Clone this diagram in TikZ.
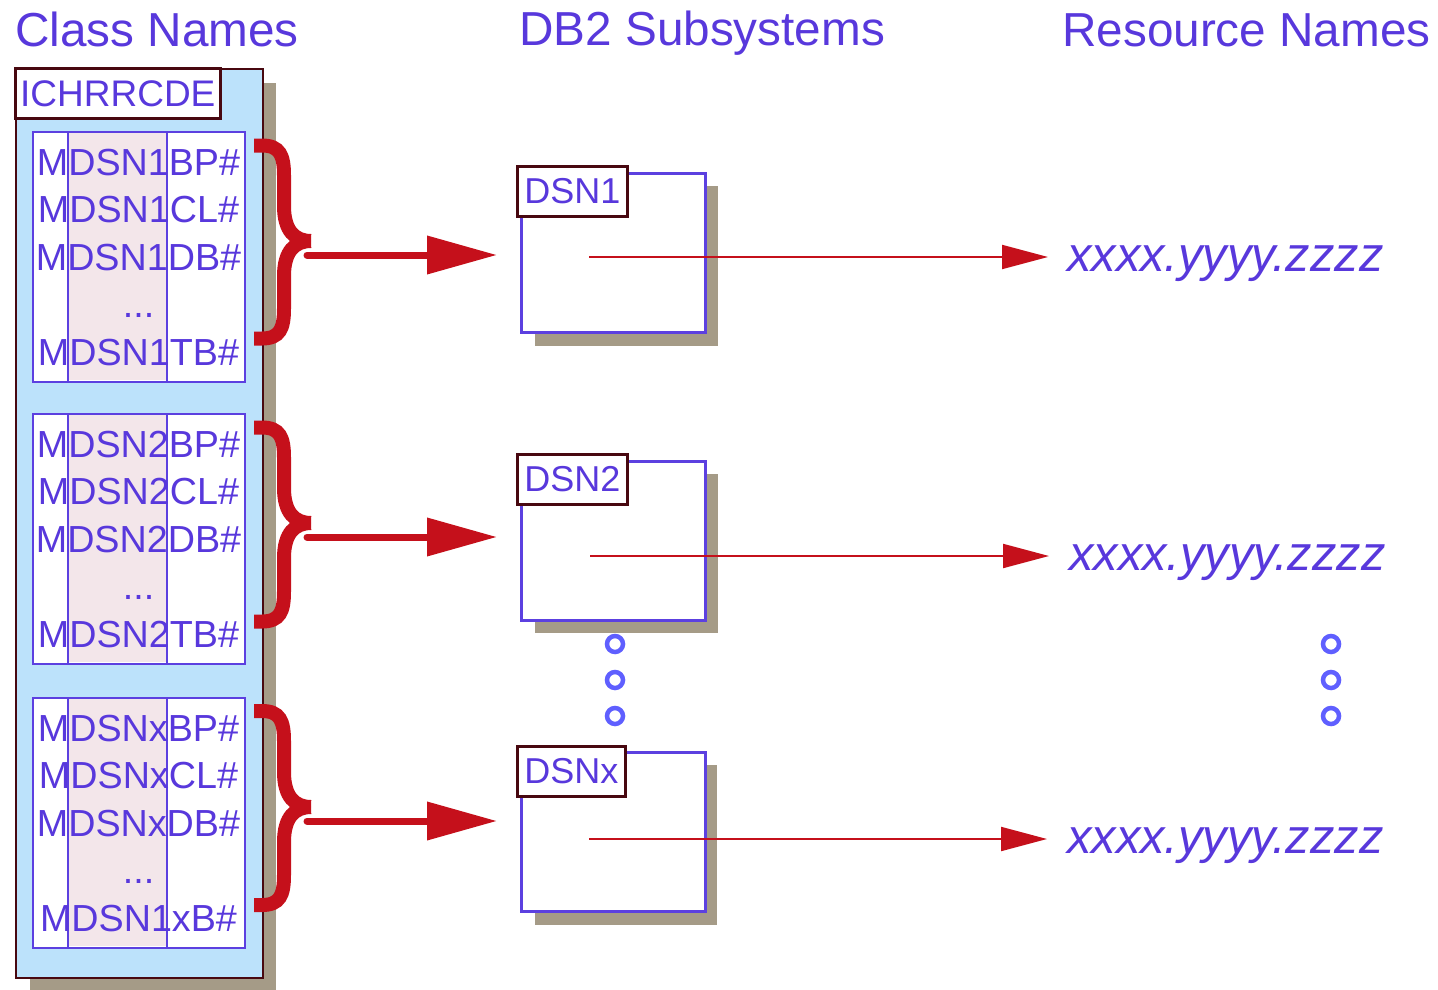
\documentclass[tikz,border=0pt]{standalone}
\usepackage{fontspec}
\setmainfont{Liberation Sans}
\usetikzlibrary{arrows.meta}
\definecolor{txt}{RGB}{88,56,220}
\definecolor{bord}{RGB}{92,64,224}
\definecolor{maroonc}{RGB}{72,8,16}
\definecolor{redc}{RGB}{197,16,27}
\definecolor{lblue}{RGB}{188,226,251}
\definecolor{shad}{RGB}{165,155,135}
\definecolor{pinkc}{RGB}{243,230,234}
\definecolor{dotc}{RGB}{95,95,255}
\tikzset{
  rowtext/.style={text=txt, font=\fontsize{37.7}{40}\selectfont, inner sep=0pt, anchor=base},
  heading/.style={text=txt, font=\fontsize{47.7}{50}\selectfont, inner sep=0pt, anchor=base west},
  restext/.style={text=txt, font=\fontsize{48.8}{50}\selectfont\itshape, inner sep=0pt, anchor=base west},
  tagbox/.style={draw=maroonc, line width=2.6pt, fill=white, text=txt, inner sep=0pt, anchor=north west, minimum height=50pt},
  dsnbox/.style={draw=bord, line width=2.6pt, fill=white, inner sep=0pt, anchor=north west, minimum width=184pt, minimum height=159pt},
  tablebox/.style={draw=bord, line width=2.4pt, inner sep=0pt, anchor=north west, minimum width=212pt, minimum height=250pt},
  shadowbox/.style={fill=shad, draw=none, inner sep=0pt, anchor=north west},
  panelbox/.style={fill=lblue, draw=maroonc, line width=2.4pt, inner sep=0pt, anchor=north west, minimum width=247pt, minimum height=909pt},
  bracepath/.style={draw=redc, line width=14pt},
  fatarrow/.style={draw=redc, line width=7pt, line cap=round, -{Triangle[length=70pt,width=37pt]}},
  thinarrow/.style={draw=redc, line width=2pt, -{Triangle[length=46pt,width=24pt]}},
  ellipsisdot/.style={circle, draw=dotc, line width=4.5pt, minimum size=16pt, inner sep=0pt},
  divider/.style={draw=bord, line width=2.4pt},
}
\begin{document}
\begin{tikzpicture}[x=1pt,y=-1pt]
\useasboundingbox (0,0) rectangle (1438,990);

% headings
\node[heading] (h1) at (15,47) {Class Names};
\node[heading] (h2) at (519,46) {DB2 Subsystems};
\node[heading] (h3) at (1062,47) {Resource Names};

% left panel
\node[shadowbox, minimum width=246pt, minimum height=907pt] (pshadow) at (30,83) {};
\node[panelbox] (panel) at (15,68) {};
\node[tagbox, minimum width=205pt, font=\fontsize{37}{40}\selectfont] (ich) at (14,67) {ICHRRCDE};

% tables
\foreach \T/\nm in {131/tab1, 413/tab2, 697/tab3}{
  \node[tablebox, fill=white] (\nm bg) at (32,\T) {};
  \fill[pinkc] (69,\T+1) rectangle (167,\T+249);
  \draw[divider] (68,\T) -- (68,\T+250);
  \draw[divider] (167,\T) -- (167,\T+250);
  \node[tablebox] (\nm) at (32,\T) {};
}

% group 1 texts
\node[rowtext] (g1a) at (138.5,175) {MDSN1BP\#};
\node[rowtext] (g1b) at (138.5,222.5) {MDSN1CL\#};
\node[rowtext] (g1c) at (138.5,270) {MDSN1DB\#};
\node[rowtext] (g1d) at (138.5,317.5) {...};
\node[rowtext] (g1e) at (138.5,365) {MDSN1TB\#};
% group 2 texts
\node[rowtext] (g2a) at (138.5,457) {MDSN2BP\#};
\node[rowtext] (g2b) at (138.5,504.5) {MDSN2CL\#};
\node[rowtext] (g2c) at (138.5,552) {MDSN2DB\#};
\node[rowtext] (g2d) at (138.5,599.5) {...};
\node[rowtext] (g2e) at (138.5,647) {MDSN2TB\#};
% group 3 texts
\node[rowtext] (g3a) at (138.5,741) {MDSNxBP\#};
\node[rowtext] (g3b) at (138.5,788.5) {MDSNxCL\#};
\node[rowtext] (g3c) at (138.5,836) {MDSNxDB\#};
\node[rowtext] (g3d) at (138.5,883.5) {...};
\node[rowtext] (g3e) at (138.5,931) {MDSN1xB\#};

% braces
\foreach \t/\m/\b in {145.5/241/338.5, 427.5/523/621.5, 711/807/905}{
  \draw[bracepath] (254,\t) -- (262,\t) .. controls (280,\t) and (284,\t+10) .. (284,\t+30)
     -- (284,\m-35) .. controls (284,\m-10) and (295,\m) .. (311,\m);
  \draw[bracepath] (311,\m) .. controls (295,\m) and (284,\m+10) .. (284,\m+35)
     -- (284,\b-30) .. controls (284,\b-10) and (280,\b) .. (262,\b) -- (254,\b);
}

% DSN boxes
\node[shadowbox, minimum width=183pt, minimum height=160pt] (sh1) at (535,186) {};
\node[dsnbox] (dsn1) at (520,172) {};
\node[tagbox, minimum width=110pt, font=\fontsize{36}{40}\selectfont] (tag1) at (516,165) {DSN1};

\node[shadowbox, minimum width=183pt, minimum height=159pt] (sh2) at (535,474) {};
\node[dsnbox] (dsn2) at (520,460) {};
\node[tagbox, minimum width=110pt, font=\fontsize{36}{40}\selectfont] (tag2) at (516,453) {DSN2};

\node[shadowbox, minimum width=182pt, minimum height=160pt] (sh3) at (535,765) {};
\node[dsnbox] (dsn3) at (520,751) {};
\node[tagbox, minimum width=108pt, font=\fontsize{36}{40}\selectfont] (tag3) at (516,745) {DSNx};

% fat arrows
\coordinate (b1) at (307,255);
\coordinate (b2) at (307,537);
\coordinate (b3) at (307,821);
\coordinate (d1) at (497,255);
\coordinate (d2) at (497,537);
\coordinate (d3) at (497,821);
\draw[fatarrow] (b1) -- (d1);
\draw[fatarrow] (b2) -- (d2);
\draw[fatarrow] (b3) -- (d3);

% resource names
\node[restext] (r1) at (1067,271) {xxxx.yyyy.zzzz};
\node[restext] (r2) at (1069,570) {xxxx.yyyy.zzzz};
\node[restext] (r3) at (1067,853) {xxxx.yyyy.zzzz};

% thin arrows
\coordinate (s1) at (589,257);
\coordinate (s2) at (590,556);
\coordinate (s3) at (589,839);
\coordinate (e1) at (1048,257);
\coordinate (e2) at (1049,556);
\coordinate (e3) at (1047,839);
\draw[thinarrow] (s1) -- (e1);
\draw[thinarrow] (s2) -- (e2);
\draw[thinarrow] (s3) -- (e3);

% ellipsis dots
\node[ellipsisdot] (ld1) at (615,644) {};
\node[ellipsisdot] (ld2) at (615,680) {};
\node[ellipsisdot] (ld3) at (615,716) {};
\node[ellipsisdot] (rd1) at (1331,644) {};
\node[ellipsisdot] (rd2) at (1331,680) {};
\node[ellipsisdot] (rd3) at (1331,716) {};
\end{tikzpicture}
\end{document}
